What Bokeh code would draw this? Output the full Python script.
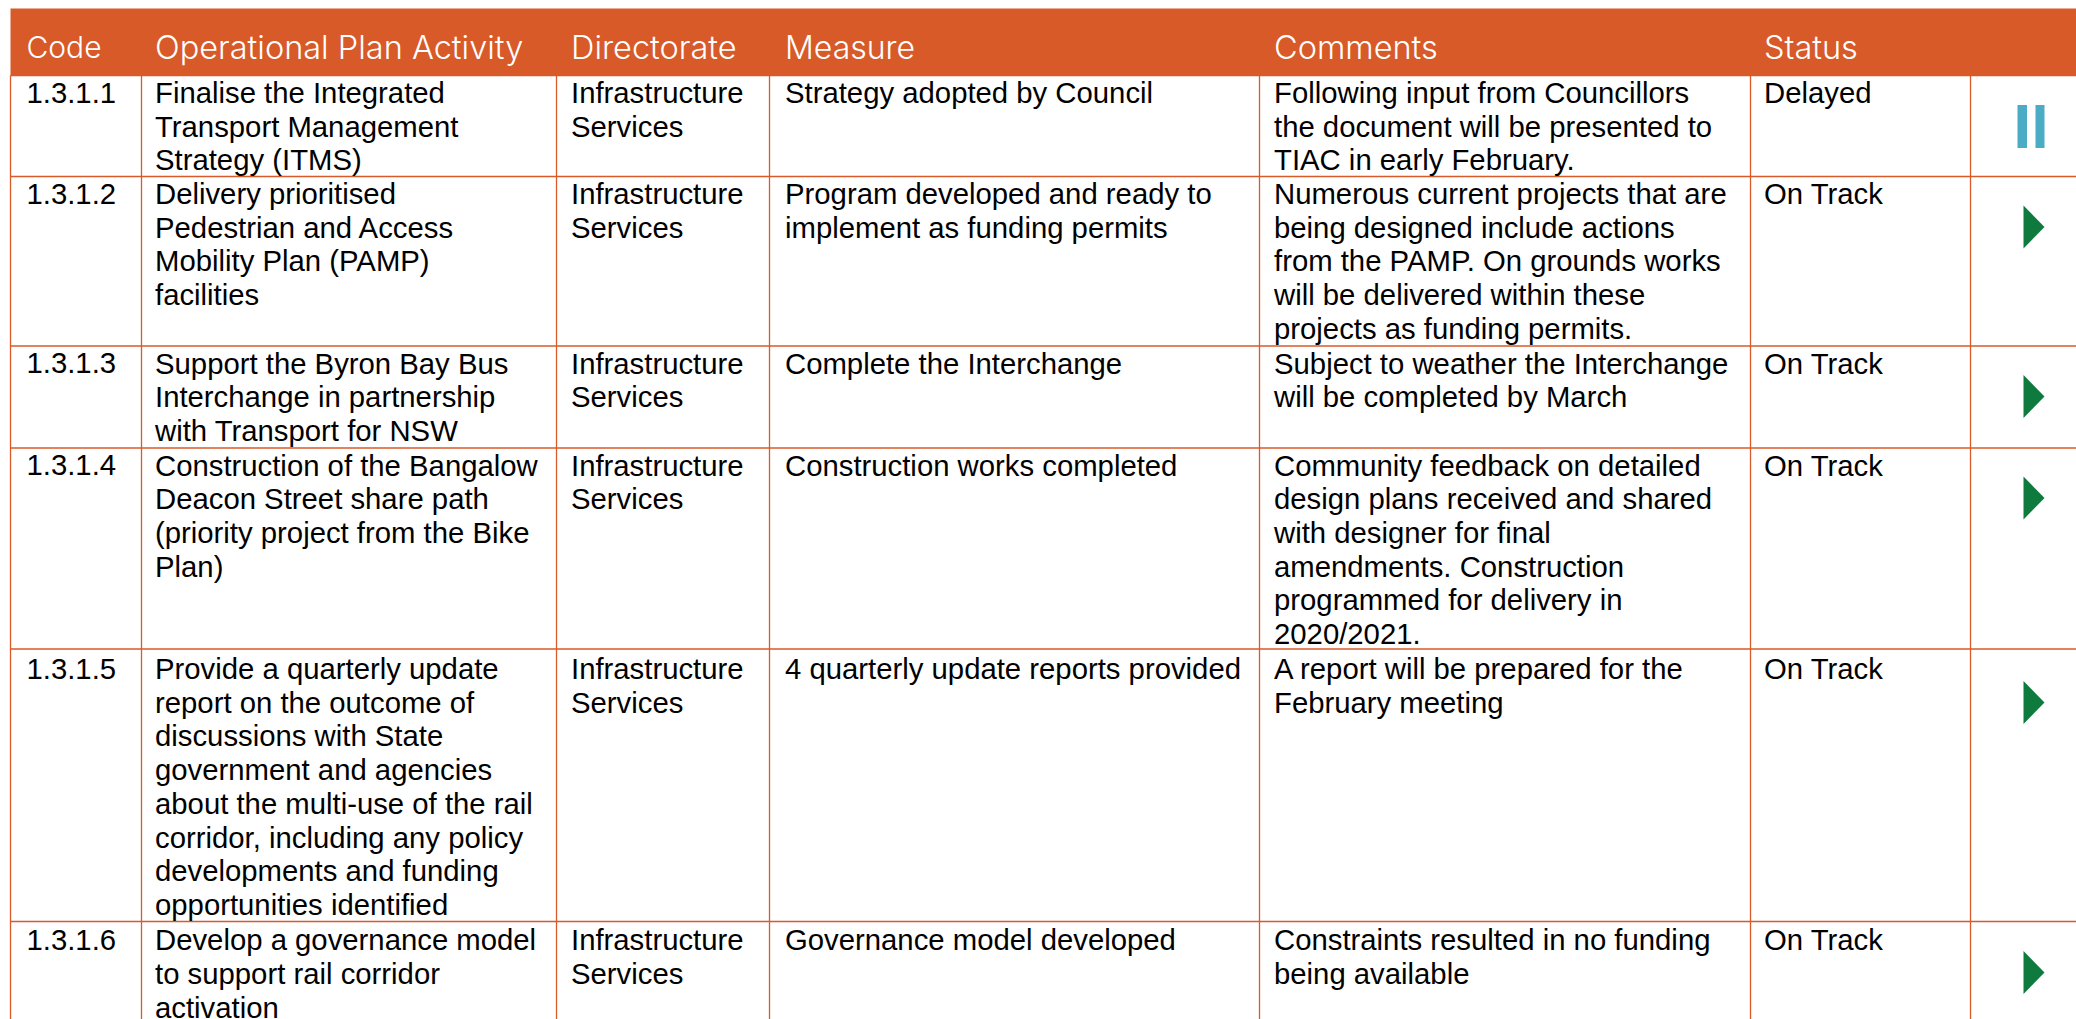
from bokeh.plotting import figure
from bokeh.models import ColumnDataSource, Range1d
from bokeh.core.properties import value
from bokeh.embed import file_html
from bokeh.resources import INLINE

# ---- content ----
headers = ["Code", "Operational Plan Activity", "Directorate", "Measure", "Comments", "Status"]
codes = ["1.3.1.1", "1.3.1.2", "1.3.1.3", "1.3.1.4", "1.3.1.5", "1.3.1.6"]
activities = [
    ["Finalise the Integrated", "Transport Management", "Strategy (ITMS)"],
    ["Delivery prioritised", "Pedestrian and Access", "Mobility Plan (PAMP)", "facilities"],
    ["Support the Byron Bay Bus", "Interchange in partnership", "with Transport for NSW"],
    ["Construction of the Bangalow", "Deacon Street share path", "(priority project from the Bike", "Plan)"],
    ["Provide a quarterly update", "report on the outcome of", "discussions with State", "government and agencies",
     "about the multi-use of the rail", "corridor, including any policy", "developments and funding",
     "opportunities identified"],
    ["Develop a governance model", "to support rail corridor", "activation"],
]
directorates = [["Infrastructure", "Services"]] * 6
measures = [
    ["Strategy adopted by Council"],
    ["Program developed and ready to", "implement as funding permits"],
    ["Complete the Interchange"],
    ["Construction works completed"],
    ["4 quarterly update reports provided"],
    ["Governance model developed"],
]
comments = [
    ["Following input from Councillors", "the document will be presented to", "TIAC in early February."],
    ["Numerous current projects that are", "being designed include actions", "from the PAMP. On grounds works",
     "will be delivered within these", "projects as funding permits."],
    ["Subject to weather the Interchange", "will be completed by March"],
    ["Community feedback on detailed", "design plans received and shared", "with designer for final",
     "amendments. Construction", "programmed for delivery in", "2020/2021."],
    ["A report will be prepared for the", "February meeting"],
    ["Constraints resulted in no funding", "being available"],
]
statuses = ["Delayed", "On Track", "On Track", "On Track", "On Track", "On Track"]

# ---- layout (page pixels) ----
W, H = 2076, 1019
ORANGE = "#D85A28"
LEFT = 10
col_lines = [LEFT, 141, 556, 769, 1259, 1750, 1970]
text_x = [26, 154.5, 570.5, 784.5, 1273.5, 1763.5]
row_tops = [75, 176, 345.5, 447.5, 648.5, 921]
row_first = [17, 17, 17, 17, 19.5, 18.3]
icon_off = [51, 50.5, 50.5, 50, 53.5, 51]
LINE_H = 33.7
BODY_PX = 29.3
header_sizes = ["30px", "32.5px", "32.5px", "32px", "32.5px", "32.5px"]

p = figure(width=W, height=H, output_backend="svg", toolbar_location=None,
           x_range=Range1d(0, W), y_range=Range1d(H, 0), min_border=0,
           outline_line_color=None, background_fill_color="white", border_fill_color="white")
p.xaxis.visible = False
p.yaxis.visible = False
p.grid.visible = False

# header band
p.quad(left=[LEFT], right=[W], top=[8], bottom=[75], fill_color=ORANGE, line_color=None)

# rules
p.segment(x0=col_lines, x1=col_lines, y0=[75] * len(col_lines), y1=[H] * len(col_lines),
          line_color=ORANGE, line_width=1.3)
p.segment(x0=[LEFT] * len(row_tops), x1=[W] * len(row_tops), y0=row_tops, y1=row_tops,
          line_color=ORANGE, line_width=1.3)

# header text
p.text(x="x", y="y", text="t", text_font_size="s",
       source=ColumnDataSource(dict(x=text_x, y=[46.5] * 6, t=headers, s=header_sizes)),
       text_color="white", text_baseline="alphabetic", text_font=value("'Inter Light', Inter"))

# body text
xs, ys, ts = [], [], []
for r, top in enumerate(row_tops):
    cells = [[codes[r]], activities[r], directorates[r], measures[r], comments[r], [statuses[r]]]
    for c, lines in enumerate(cells):
        for i, t in enumerate(lines):
            xs.append(text_x[c])
            ys.append(top + row_first[r] + i * LINE_H)
            ts.append(t)
p.text(x="x", y="y", text="t", source=ColumnDataSource(dict(x=xs, y=ys, t=ts)), text_color="#000000",
       text_baseline="alphabetic", text_font=value("Liberation Sans"), text_font_size=f"{BODY_PX}px")

# status icons
IH = 21.5
pause_c = [t + o for t, o, s in zip(row_tops, icon_off, statuses) if s == "Delayed"]
for c in pause_c:
    p.quad(left=[2017, 2035], right=[2026.5, 2044], top=[c - IH] * 2, bottom=[c + IH] * 2,
           fill_color="#4BACC6", line_color=None)
track_c = [t + o for t, o, s in zip(row_tops, icon_off, statuses) if s == "On Track"]
p.patches(xs=[[2023, 2044, 2023] for _ in track_c], ys=[[c - IH, c, c + IH] for c in track_c],
          fill_color="#0E7A3D", line_color=None)

open("out.html", "w").write(file_html(p, INLINE))
